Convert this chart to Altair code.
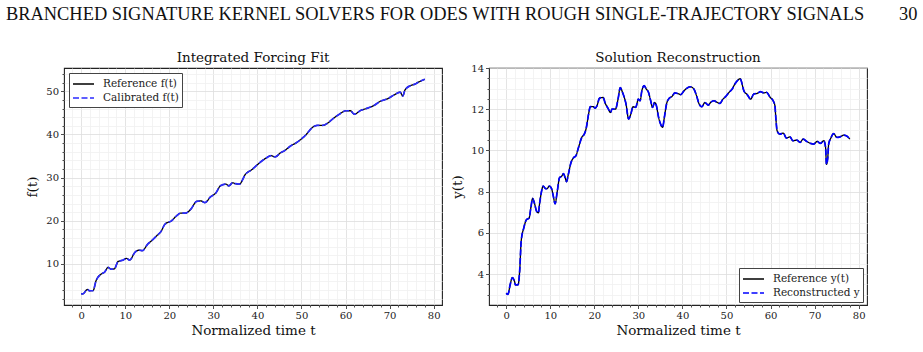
import altair as alt
import pandas as pd

header_text = "BRANCHED SIGNATURE KERNEL SOLVERS FOR ODES WITH ROUGH SINGLE-TRAJECTORY SIGNALS"
page_number = "30"

# Left panel: integrated forcing
t_f = [0, 0.4, 1.4, 1.9, 2.7, 3.4, 4.6, 5.3, 6.1, 6.8, 7.5, 8.4, 9.5, 10.3, 11.0, 12.2, 13.1, 13.9,
       15.1, 16.0, 17.1, 18.1, 19.0, 20.5, 21.7, 22.6, 23.7, 24.9, 26.2, 27.2, 28.1, 29.3, 30.6, 31.6,
       32.9, 33.5, 34.4, 35.0, 35.9, 37.3, 38.8, 40.0, 41.9, 43.1, 44.0, 45.3, 46.1, 47.6, 48.7, 50.6,
       52.9, 53.6, 54.8, 55.9, 57.1, 58.6, 60.1, 61.1, 62.0, 63.5, 64.7, 66.6, 67.9, 69.6, 71.1, 72.4,
       73.0, 73.5, 74.7, 75.6, 76.7, 78.0]
f_ref = [3.1, 3.1, 4.1, 3.8, 3.85, 6.2, 7.7, 8.1, 9.2, 8.8, 8.85, 10.6, 10.9, 11.3, 10.9, 12.7, 13.2, 13.1,
         14.6, 15.4, 16.5, 17.5, 19.2, 20.0, 21.2, 21.8, 21.8, 22.7, 24.5, 24.6, 24.2, 25.5, 26.5, 28.1,
         28.5, 28.1, 28.8, 28.6, 28.5, 30.8, 31.9, 33.0, 34.5, 35.1, 34.8, 35.8, 36.2, 37.4, 38.0, 39.5,
         41.9, 42.1, 42.1, 42.6, 43.6, 44.7, 45.5, 45.5, 44.7, 45.6, 46.0, 46.8, 47.7, 48.3, 49.2, 49.8,
         48.9, 50.3, 51.3, 51.6, 52.2, 52.8]
f_cal = list(f_ref)

# Right panel: solution reconstruction
t_y = [0, 0.4, 0.9, 1.4, 1.9, 2.1, 2.7, 3.1, 3.4, 4.0, 4.6, 5.2, 5.6, 6.0, 6.4, 6.9, 7.3, 7.6, 8.0, 8.4,
       9.0, 9.3, 9.8, 10.3, 10.7, 11.1, 11.6, 12.1, 12.6, 13.0, 13.4, 13.7, 14.1, 14.7, 15.3, 15.8, 16.4,
       17.2, 17.7, 18.2, 18.7, 19.1, 19.7, 20.2, 20.6, 21.2, 22.0, 22.5, 23.1, 23.7, 24.0, 24.8, 25.4,
       25.9, 26.4, 27.2, 27.8, 28.3, 28.8, 29.4, 30.0, 30.4, 30.8, 31.3, 31.8, 32.3, 32.8, 33.2, 33.7,
       34.1, 34.6, 35.1, 35.5, 35.9, 36.4, 37.0, 37.6, 38.3, 39.2, 39.6, 40.4, 41.1, 41.8, 42.6, 43.2,
       43.8, 44.4, 45.1, 45.9, 46.4, 47.2, 47.9, 48.5, 49.2, 49.8, 50.6, 51.3, 51.9, 52.5, 53.1, 54.0,
       54.7, 55.5, 56.2, 57.0, 57.7, 58.5, 59.1, 59.9, 60.6, 61.0, 61.2, 61.5, 62.1, 62.9, 63.6, 64.4,
       65.1, 66.0, 66.7, 67.4, 68.2, 69.1, 69.8, 70.6, 71.3, 72.1, 72.5, 72.7, 73.0, 73.2, 73.7, 74.3,
       75.1, 75.8, 76.6, 77.2, 78.0]
y_ref = [3.07, 3.02, 3.48, 3.83, 3.64, 3.48, 3.48, 4.29, 5.59, 6.24, 6.64, 6.72, 7.21, 7.67, 7.45, 7.05,
         6.97, 7.45, 7.99, 8.27, 8.14, 8.15, 8.27, 8.15, 7.78, 7.41, 8.02, 8.67, 8.75, 8.87, 8.67, 8.48,
         8.83, 9.40, 9.65, 9.73, 10.13, 10.65, 10.78, 11.11, 11.76, 12.13, 12.13, 12.05, 12.16, 12.54,
         12.57, 12.28, 12.05, 11.84, 12.0, 12.0, 12.5, 13.05, 12.82, 12.25, 11.52, 11.77, 12.12, 12.09,
         12.49, 12.41, 12.9, 13.14, 12.98, 12.82, 12.41, 12.09, 12.33, 12.17, 11.6, 11.25, 11.12, 11.6,
         12.25, 12.53, 12.61, 12.79, 12.74, 12.71, 12.9, 13.03, 13.09, 12.98, 12.66, 12.25, 12.12, 12.32,
         12.2, 12.33, 12.41, 12.33, 12.28, 12.49, 12.61, 12.82, 12.98, 13.22, 13.39, 13.48, 12.87, 12.71,
         12.49, 12.74, 12.77, 12.85, 12.79, 12.82, 12.58, 12.41, 12.17, 11.6, 10.95, 10.79, 10.84, 10.6,
         10.66, 10.47, 10.5, 10.39, 10.55, 10.44, 10.34, 10.31, 10.44, 10.34, 10.47, 10.14, 9.33, 9.66,
         10.31, 10.6, 10.82, 10.63, 10.66, 10.74, 10.71, 10.55]
y_rec = list(y_ref)

x_ticks = [-2] + list(range(0, 81, 2))
yl_ticks = list(range(2, 55, 2))
yr_ticks = [3 + 0.5 * i for i in range(23)]

FONT = "DejaVu Serif"
GRID_MAJOR = "#dddddd"
GRID_MINOR = "#f0f0f0"
W, H = 378, 237


def axis(values, major_test, title, is_x):
    return alt.Axis(
        values=values,
        title=title,
        format=".0f",
        labelExpr=f"({major_test}) ? datum.label : ''",
        labelOverlap=False,
        labelFlush=False,
        grid=True,
        gridColor={"condition": {"test": major_test, "value": GRID_MAJOR}, "value": GRID_MINOR},
        gridWidth=0.8,
        tickSize={"condition": {"test": major_test, "value": 3.5}, "value": 2},
        tickColor="#222222",
        tickWidth=0.8,
        domain=False,
        labelFont=FONT,
        labelFontSize=10,
        labelColor="#222222",
        labelPadding=2,
        titleFont=FONT,
        titleFontSize=13.5,
        titleFontWeight="normal",
        titleColor="#111111",
        titlePadding=3 if is_x else 6,
    )


def panel(t, ref, fit, names, ydomain, yticks, ymajor, ytitle, title, legx, legy, blue, add_header):
    df = pd.DataFrame({
        "t": t + t,
        "v": ref + fit,
        "series": [names[0]] * len(t) + [names[1]] * len(t),
    })
    enc = dict(
        x=alt.X("t:Q", scale=alt.Scale(domain=[-3.9, 81.9], nice=False, zero=False),
                axis=axis(x_ticks, "datum.value % 10 === 0", "Normalized time t", True)),
        y=alt.Y("v:Q", scale=alt.Scale(domain=ydomain, nice=False, zero=False),
                axis=axis(yticks, ymajor, ytitle, False)),
        color=alt.Color("series:N",
                        scale=alt.Scale(domain=names, range=["#000000", blue]),
                        legend=alt.Legend(title=None, orient="none", legendX=legx, legendY=legy,
                                          symbolType="M-1,0H2", symbolSize=196, symbolStrokeWidth=1.5,
                                          symbolFillColor="transparent",
                                          labelFont=FONT, labelFontSize=10.5, labelColor="#222222",
                                          strokeColor="#444444", fillColor="#ffffff", padding=3,
                                          rowPadding=-1, labelOffset=15, cornerRadius=0)),
        strokeDash=alt.StrokeDash("series:N",
                                  scale=alt.Scale(domain=names, range=[[1, 0], [6, 2.5]]),
                                  legend=alt.Legend(title=None, orient="none", legendX=legx, legendY=legy)),
    )
    base = alt.Chart(df)
    ref_line = base.mark_line(strokeWidth=1.3, interpolate="monotone").encode(**enc).transform_filter(
        alt.datum.series == names[0])
    fit_line = base.mark_line(strokeWidth=1.7, interpolate="monotone").encode(**enc).transform_filter(
        alt.datum.series == names[1])
    tdf = pd.DataFrame({"title": [title]})
    title_mark = alt.Chart(tdf).mark_text(align="center", baseline="alphabetic", font=FONT, fontSize=13.5,
                                          color="#111111").encode(
        text="title:N", x=alt.value(W / 2), y=alt.value(-6))
    layers = [ref_line, fit_line, title_mark]
    if add_header:
        hdf = pd.DataFrame({"h": [header_text], "p": [page_number]})
        layers.append(alt.Chart(hdf).mark_text(align="left", baseline="middle", font="Liberation Serif",
                                               fontSize=18.4, color="#111111").encode(
            text="h:N", x=alt.value(-58), y=alt.value(-54)))
        layers.append(alt.Chart(hdf).mark_text(align="left", baseline="middle", font="Liberation Serif",
                                               fontSize=18.4, color="#111111").encode(
            text="p:N", x=alt.value(835), y=alt.value(-54)))
    return alt.layer(*layers).properties(width=W, height=H)


left = panel(t_f, f_ref, f_cal, ["Reference f(t)", "Calibrated f(t)"], [0.5, 55.4], yl_ticks,
             "datum.value % 10 === 0", "f(t)", "Integrated Forcing Fit", 5, 5, "#2b2bff", True)
right = panel(t_y, y_ref, y_rec, ["Reference y(t)", "Reconstructed y"], [2.5, 14.0], yr_ticks,
              "datum.value % 2 === 0", "y(t)", "Solution Reconstruction", 250, 200, "#0000ff", False)

chart = alt.hconcat(left, right, spacing=47, bounds="flush").resolve_scale(
    color="independent", strokeDash="independent", x="independent", y="independent"
).resolve_legend(color="independent", strokeDash="independent").configure_view(
    stroke="#222222", strokeWidth=1.1
).properties(padding={"left": 5, "top": 4, "right": 0, "bottom": 0}, background="white")

chart.save("out.html", embed_options={"renderer": "svg", "actions": False})
